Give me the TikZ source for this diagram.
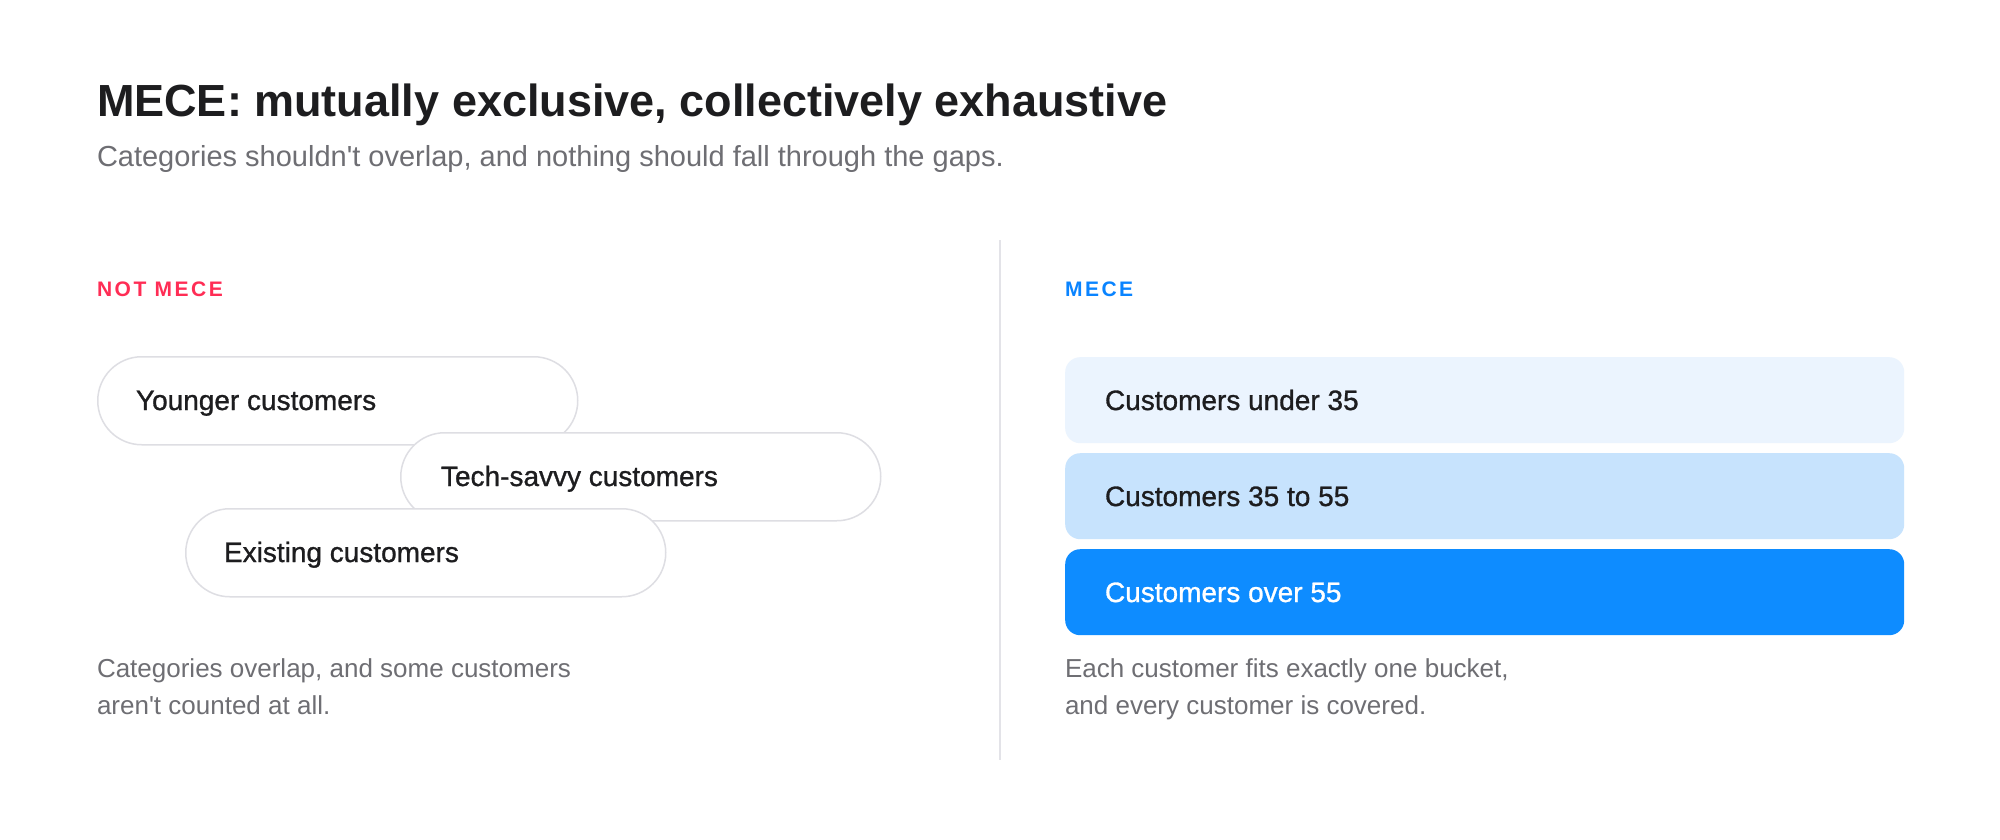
\documentclass[tikz,border=0pt]{standalone}
\usepackage{fontspec}
\setmainfont{Liberation Sans}
\newfontfamily\medfont[FakeBold=1.0]{Liberation Sans}
\newfontfamily\capfont[LetterSpace=12]{Liberation Sans Bold}
\definecolor{ink}{HTML}{1D1D1F}
\definecolor{greytext}{HTML}{6E6E73}
\definecolor{redlbl}{HTML}{FF2D55}
\definecolor{bluelbl}{HTML}{0A84FF}
\definecolor{pillline}{HTML}{DEDEE3}
\definecolor{divline}{HTML}{E3E3E8}
\definecolor{bone}{HTML}{EBF4FE}
\definecolor{btwo}{HTML}{C7E3FD}
\definecolor{bthree}{HTML}{0E8CFF}
\begin{document}
\begin{tikzpicture}[x=1pt,y=-1pt,
  lbl/.style={anchor=base west, inner sep=0pt, outer sep=0pt},
  titletext/.style={lbl, text=ink, font=\fontsize{45}{54}\selectfont\bfseries},
  subtext/.style={lbl, text=greytext, font=\fontsize{29}{36}\selectfont},
  captext/.style={lbl, text=greytext, font=\fontsize{26}{37}\selectfont},
  headlbl/.style={lbl, font=\fontsize{21}{25}\selectfont\capfont},
  itemtext/.style={lbl, text=ink, font=\fontsize{28}{34}\selectfont\medfont},
  pill/.style={draw=pillline, line width=1.5pt, fill=white, rounded corners=44pt,
    minimum width=480pt, minimum height=88pt, anchor=north west, inner sep=0pt},
  bucket/.style={rounded corners=15pt, minimum width=839pt, minimum height=86pt,
    anchor=north west, inner sep=0pt},
  divider/.style={draw=divline, line width=1.5pt}
]
\useasboundingbox[fill=white] (0,0) rectangle (2000,840);

% header
\node[titletext] (title) at (97,117) {MECE: mutually exclusive, collectively exhaustive};
\node[subtext] (subtitle) at (97,166) {Categories shouldn\textquotesingle t overlap, and nothing should fall through the gaps.};

% divider
\coordinate (dtop) at (1000,240);
\coordinate (dbot) at (1000,760);
\draw[divider] (dtop) -- (dbot);

% section labels
\node[headlbl, text=redlbl] (notmece) at (97,296) {NOT MECE};
\node[headlbl, text=bluelbl] (mece) at (1065,296) {MECE};

% left: overlapping pills
\node[pill] (young) at (97,356) {};
\node[itemtext] (youngt) at (136,410) {Younger customers};
\node[pill] (tech) at (400,432) {};
\node[itemtext] (techt) at (441,486) {Tech-savvy customers};
\node[pill] (exist) at (185,508) {};
\node[itemtext] (existt) at (224,562) {Existing customers};

\node[captext] (lcap1) at (97,677) {Categories overlap, and some customers};
\node[captext] (lcap2) at (97,714) {aren\textquotesingle t counted at all.};

% right: MECE buckets
\node[bucket, fill=bone] (under) at (1065,357) {};
\node[itemtext] (undert) at (1105,410) {Customers under 35};
\node[bucket, fill=btwo] (mid) at (1065,453) {};
\node[itemtext] (midt) at (1105,506) {Customers 35 to 55};
\node[bucket, fill=bthree] (over) at (1065,549) {};
\node[itemtext, text=white] (overt) at (1105,602) {Customers over 55};

\node[captext] (rcap1) at (1065,677) {Each customer fits exactly one bucket,};
\node[captext] (rcap2) at (1065,714) {and every customer is covered.};
\end{tikzpicture}
\end{document}
